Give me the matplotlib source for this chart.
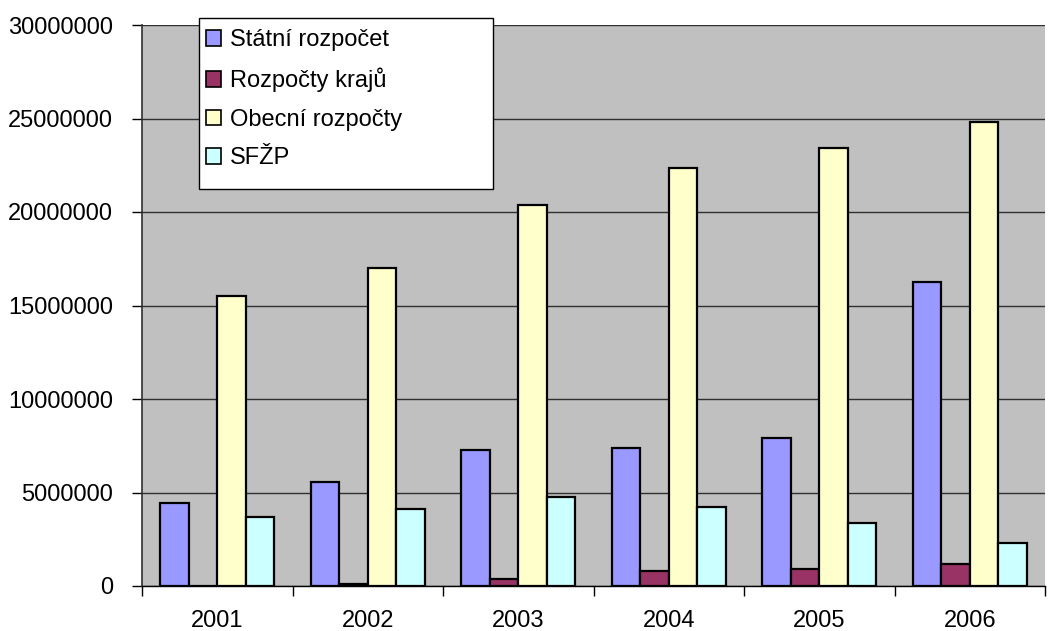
import matplotlib
matplotlib.use("Agg")
import matplotlib.pyplot as plt
from matplotlib.patches import Rectangle
import numpy as np

plt.rcParams['font.family'] = ['Liberation Sans', 'DejaVu Sans']

years = ["2001", "2002", "2003", "2004", "2005", "2006"]
series_names = ["Státní rozpočet", "Rozpočty krajů", "Obecní rozpočty", "SFŽP"]
statni = [4420000, 5580000, 7270000, 7380000, 7900000, 16250000]
kraje = [0, 120000, 390000, 800000, 910000, 1160000]
obecni = [15520000, 16980000, 20390000, 22370000, 23440000, 24790000]
sfzp = [3710000, 4100000, 4740000, 4220000, 3350000, 2300000]
colors = ["#9999FF", "#993366", "#FFFFCC", "#CCFFFF"]
y_ticks = [0, 5000000, 10000000, 15000000, 20000000, 25000000, 30000000]

W, H = 1052, 631
fig = plt.figure(figsize=(W / 100, H / 100), dpi=100)
ax = fig.add_axes([142 / W, (H - 586) / H, (1045 - 142) / W, (586 - 25) / H])
ax.set_facecolor("#C0C0C0")

x = np.arange(len(years))
bw = 0.189
data = [statni, kraje, obecni, sfzp]
handles = []
for k, (vals, c, name) in enumerate(zip(data, colors, series_names)):
    b = ax.bar(x + (k - 1.5) * bw, vals, width=bw, color=c, edgecolor="black",
               linewidth=1.6, label=name, zorder=3)
    handles.append(b)

ax.set_xlim(-0.5, len(years) - 0.5)
ax.set_ylim(0, 30000000)
ax.set_yticks(y_ticks)
ax.set_yticklabels([str(v) for v in y_ticks], fontsize=17)
ax.yaxis.grid(True, color="#303030", linewidth=1.0, zorder=0)
ax.set_axisbelow(True)

ax.set_xticks(x)
ax.set_xticklabels(years, fontsize=17)
ax.tick_params(axis="x", which="major", length=0, pad=17)
ax.set_xticks(np.arange(-0.5, len(years)), minor=True)
ax.tick_params(axis="x", which="minor", length=7, width=1.0, color="black", direction="out")
ax.tick_params(axis="y", length=7, width=1.0, color="black", direction="out", pad=14)

for side in ("top", "right"):
    ax.spines[side].set_visible(False)
ax.spines["left"].set_color("#303030")
ax.spines["left"].set_linewidth(1.2)
ax.spines["bottom"].set_color("black")
ax.spines["bottom"].set_linewidth(1.0)

# legend box
fig.patches.append(Rectangle((199 / W, 1 - 189 / H), (493 - 199) / W, (189 - 18) / H,
                             transform=fig.transFigure, facecolor="white",
                             edgecolor="black", linewidth=1.0, zorder=5))
leg = fig.legend(handles=handles, labels=series_names, loc="upper left",
                 bbox_to_anchor=(206 / W, 1 - 29 / H), bbox_transform=fig.transFigure,
                 frameon=False, fontsize=17, handlelength=0.64, handleheight=0.64,
                 handletextpad=0.36, labelspacing=0.70, borderaxespad=0, borderpad=0)
leg.set_zorder(6)
for h in leg.legend_handles:
    h.set_linewidth(1.2)

fig.savefig("out.png", dpi=100)
